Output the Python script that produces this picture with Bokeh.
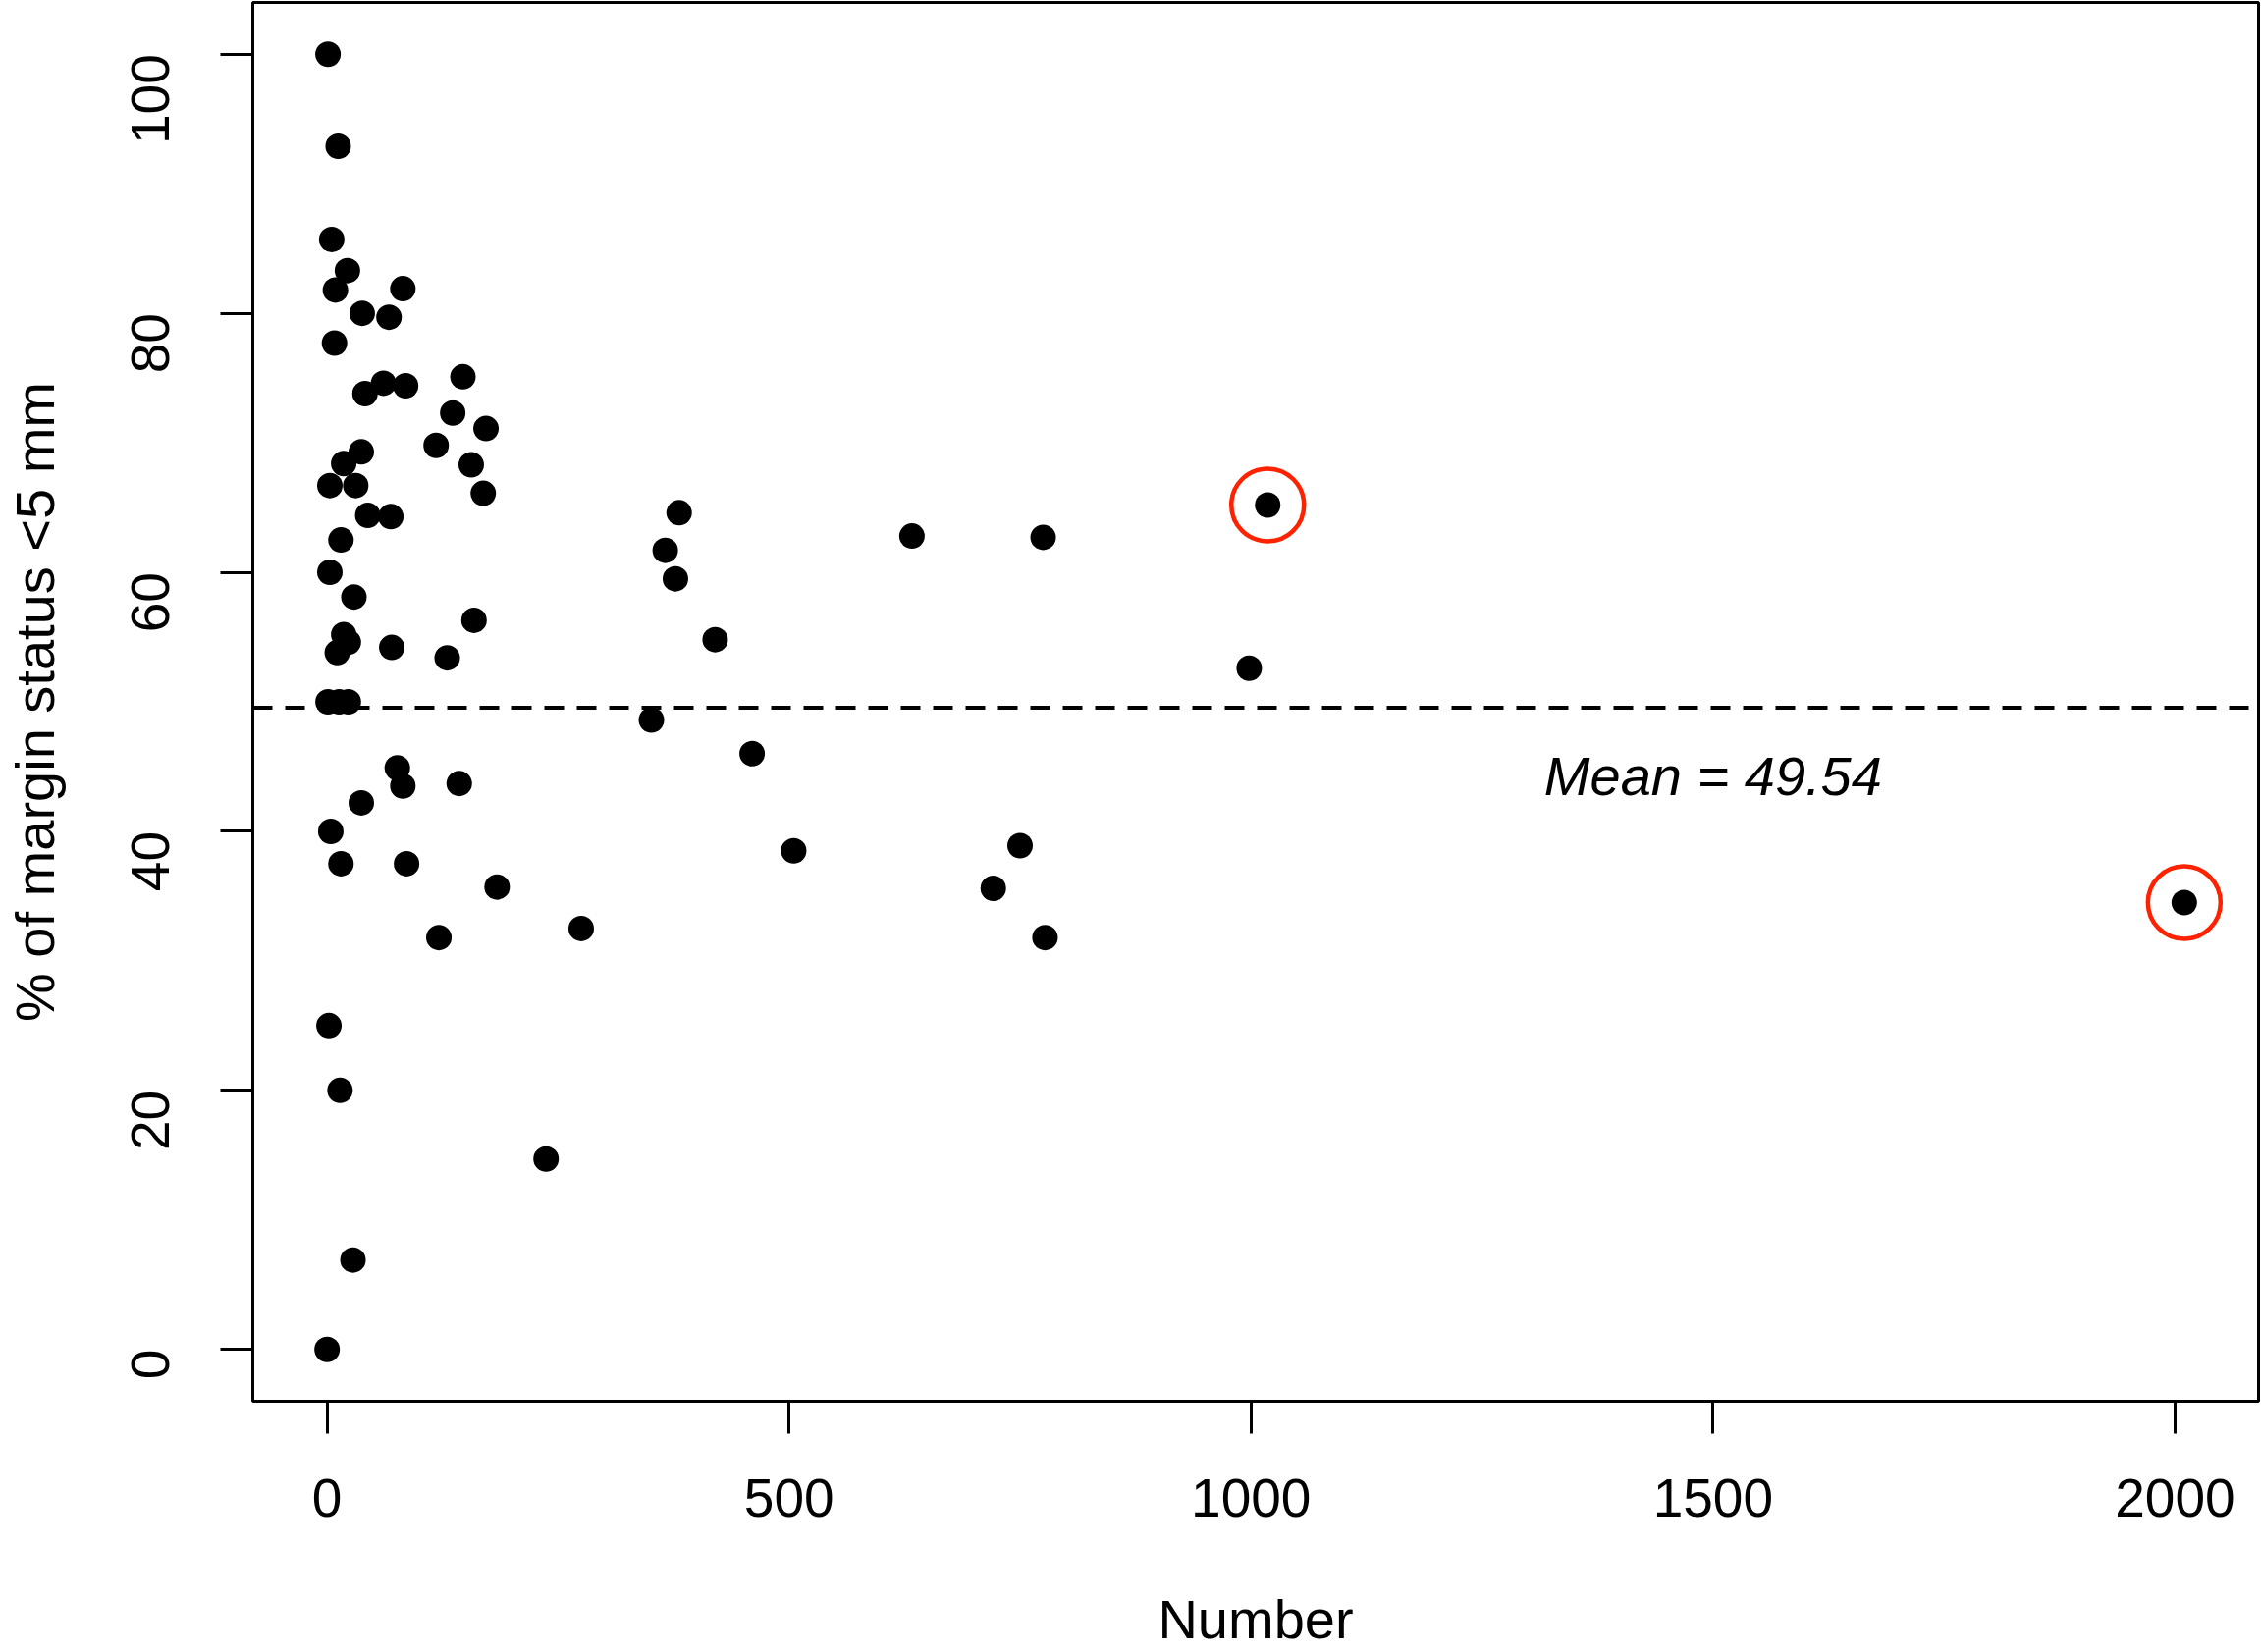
import math
from bokeh.plotting import figure
from bokeh.models import Span, Range1d, FixedTicker
from bokeh.core.properties import value
from bokeh.embed import file_html
from bokeh.resources import INLINE

# ---- data ----
number = [1, 12, 5, 22, 9, 82, 38, 67, 8, 147, 61, 85, 41, 136, 172, 118, 37, 18,
          156, 169, 3, 31, 44, 69, 15, 3, 29, 18, 23, 11, 70, 159, 130, 1, 13, 23,
          76, 82, 143, 37, 4, 15, 86, 184, 121, 2, 14, 237, 28, 0, 381, 366, 377,
          420, 351, 460, 505, 275, 633, 775, 750, 721, 777, 998, 1018, 2010]
pct_margin = [100, 92.9, 85.7, 83.3, 81.8, 81.9, 80.0, 79.7, 77.7, 75.1, 74.6, 74.4,
              73.8, 72.3, 71.1, 69.8, 69.3, 68.4, 68.3, 66.1, 66.7, 66.7, 64.4, 64.3,
              62.5, 60.0, 58.1, 55.2, 54.6, 53.8, 54.2, 56.3, 53.4, 50.0, 50.0, 50.0,
              44.9, 43.5, 43.7, 42.2, 40.0, 37.5, 37.5, 35.7, 31.8, 25.0, 20.0, 14.7,
              6.9, 0.0, 64.6, 61.7, 59.5, 54.8, 48.6, 46.0, 38.5, 32.5, 62.8, 62.7,
              38.9, 35.6, 31.8, 52.6, 65.2, 34.5]
highlight_x = [1018, 2010]
highlight_y = [65.2, 34.5]
mean_value = 49.54
mean_label = ["Mean = 49.54"]
mean_label_x = [1500]
mean_label_y = [44.3]
x_ticks = [0, 500, 1000, 1500, 2000]
y_ticks = [0, 20, 40, 60, 80, 100]
x_title = "Number"
y_title = "% of margin status <5 mm"

FONT = "Liberation Sans"
X0, X1 = -80.4, 2090.4
Y0, Y1 = -4, 104

p = figure(width=2303, height=1683, output_backend="svg", toolbar_location=None,
           x_range=Range1d(X0, X1), y_range=Range1d(Y0, Y1),
           min_border_left=256, min_border_right=3, min_border_top=2,
           min_border_bottom=255)
p.grid.visible = False
p.background_fill_color = "white"
p.border_fill_color = "white"
p.outline_line_color = "black"
p.outline_line_width = 3

for ax in (p.xaxis[0], p.yaxis[0]):
    ax.axis_line_color = None
    ax.major_tick_out = 33
    ax.major_tick_in = 0
    ax.major_tick_line_width = 3
    ax.major_tick_line_color = "black"
    ax.minor_tick_line_color = None
    ax.major_label_text_font = FONT
    ax.major_label_text_font_size = "55px"
    ax.major_label_text_color = "black"
    ax.axis_label_text_font = FONT
    ax.axis_label_text_font_size = "56px"
    ax.axis_label_text_font_style = "normal"
    ax.axis_label_text_color = "black"

p.xaxis.ticker = FixedTicker(ticks=x_ticks)
p.yaxis.ticker = FixedTicker(ticks=y_ticks)
p.xaxis.axis_label = x_title
p.yaxis.axis_label = y_title
p.xaxis.major_label_standoff = 46
p.xaxis.axis_label_standoff = 70
p.yaxis.major_label_standoff = 71
p.yaxis.axis_label_standoff = 46
p.yaxis.major_label_orientation = math.pi / 2

p.add_layout(Span(location=mean_value, dimension="width", line_color="black",
                  line_width=4, line_dash="20 13"))

p.scatter(number, pct_margin, size=26, marker="circle", fill_color="black",
          line_color="black", line_width=0)
p.scatter(highlight_x, highlight_y, size=74, marker="circle", fill_color=None,
          line_color="#FF2200", line_width=4.5)

p.text(x=mean_label_x, y=mean_label_y, text=mean_label, text_font=value(FONT),
       text_font_size="56px", text_font_style="italic", text_align="center",
       text_baseline="alphabetic", text_color="black")

open("out.html", "w").write(file_html(p, INLINE))
